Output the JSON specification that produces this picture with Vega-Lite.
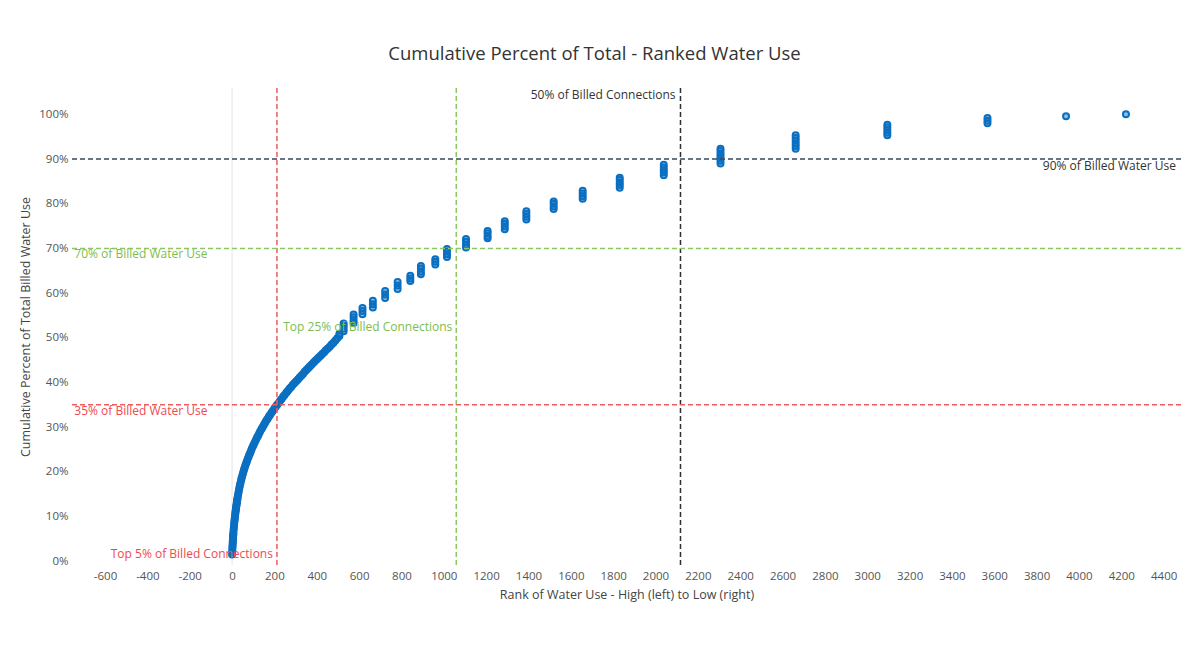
{
  "$schema": "https://vega.github.io/schema/vega-lite/v6.json",
  "width": 1109,
  "height": 477,
  "autosize": "none",
  "padding": {"left": 72, "top": 88, "right": 5, "bottom": 101},
  "background": "white",
  "config": {"view": {"stroke": null}, "font": "Open Sans"},
  "title": {"text": "Cumulative Percent of Total - Ranked Water Use", "fontSize": 18.5, "fontWeight": "normal", "color": "#333333", "offset": 24, "dx": -32},
  "datasets": {
    "pts": [
      {"rank": 0, "p": 1.5}, {"rank": 1, "p": 2.1}, {"rank": 1, "p": 2.6}, {"rank": 2, "p": 3.1}, {"rank": 2, "p": 3.5}, {"rank": 3, "p": 3.9}, {"rank": 3, "p": 4.3}, {"rank": 4, "p": 4.7}, {"rank": 4, "p": 5.0},
      {"rank": 5, "p": 5.4}, {"rank": 5, "p": 5.7}, {"rank": 6, "p": 6.0}, {"rank": 6, "p": 6.3}, {"rank": 7, "p": 6.9}, {"rank": 8, "p": 7.4}, {"rank": 9, "p": 7.9}, {"rank": 10, "p": 8.4}, {"rank": 11, "p": 8.9}, {"rank": 12, "p": 9.3},
      {"rank": 13, "p": 9.7}, {"rank": 14, "p": 10.1}, {"rank": 15, "p": 10.5}, {"rank": 16, "p": 10.9}, {"rank": 17, "p": 11.3}, {"rank": 18, "p": 11.6}, {"rank": 19, "p": 12.0}, {"rank": 20, "p": 12.3}, {"rank": 21, "p": 12.6}, {"rank": 22, "p": 13.0}, {"rank": 23, "p": 13.3},
      {"rank": 24, "p": 13.6}, {"rank": 25, "p": 13.9}, {"rank": 26, "p": 14.2}, {"rank": 28, "p": 14.8}, {"rank": 30, "p": 15.3}, {"rank": 32, "p": 15.8}, {"rank": 34, "p": 16.3}, {"rank": 36, "p": 16.8}, {"rank": 38, "p": 17.2}, {"rank": 40, "p": 17.6}, {"rank": 43, "p": 18.2},
      {"rank": 45, "p": 18.6}, {"rank": 48, "p": 19.1}, {"rank": 51, "p": 19.6}, {"rank": 54, "p": 20.1}, {"rank": 57, "p": 20.6}, {"rank": 60, "p": 21.0}, {"rank": 63, "p": 21.5}, {"rank": 67, "p": 22.0}, {"rank": 70, "p": 22.4}, {"rank": 74, "p": 22.9},
      {"rank": 78, "p": 23.4}, {"rank": 82, "p": 23.9}, {"rank": 86, "p": 24.3}, {"rank": 90, "p": 24.8}, {"rank": 94, "p": 25.3}, {"rank": 99, "p": 25.8}, {"rank": 103, "p": 26.2}, {"rank": 108, "p": 26.7}, {"rank": 113, "p": 27.2}, {"rank": 118, "p": 27.7},
      {"rank": 123, "p": 28.1}, {"rank": 128, "p": 28.6}, {"rank": 133, "p": 29.1}, {"rank": 139, "p": 29.6}, {"rank": 144, "p": 30.0}, {"rank": 150, "p": 30.5}, {"rank": 156, "p": 31.0}, {"rank": 162, "p": 31.5}, {"rank": 168, "p": 31.9}, {"rank": 174, "p": 32.4},
      {"rank": 180, "p": 32.8}, {"rank": 187, "p": 33.3}, {"rank": 193, "p": 33.7}, {"rank": 200, "p": 34.2}, {"rank": 206, "p": 34.6}, {"rank": 213, "p": 35.0}, {"rank": 220, "p": 35.4}, {"rank": 227, "p": 35.9}, {"rank": 234, "p": 36.3}, {"rank": 241, "p": 36.8},
      {"rank": 248, "p": 37.2}, {"rank": 256, "p": 37.7}, {"rank": 263, "p": 38.1}, {"rank": 271, "p": 38.6}, {"rank": 279, "p": 39.0}, {"rank": 287, "p": 39.5}, {"rank": 295, "p": 39.9}, {"rank": 303, "p": 40.3}, {"rank": 311, "p": 40.7}, {"rank": 319, "p": 41.1},
      {"rank": 327, "p": 41.5}, {"rank": 335, "p": 41.9}, {"rank": 343, "p": 42.4}, {"rank": 351, "p": 42.8}, {"rank": 359, "p": 43.2}, {"rank": 367, "p": 43.6}, {"rank": 375, "p": 44.0}, {"rank": 384, "p": 44.4}, {"rank": 392, "p": 44.8}, {"rank": 401, "p": 45.2},
      {"rank": 409, "p": 45.6}, {"rank": 418, "p": 46.0}, {"rank": 426, "p": 46.4}, {"rank": 435, "p": 46.8}, {"rank": 443, "p": 47.2}, {"rank": 452, "p": 47.6}, {"rank": 461, "p": 48.0}, {"rank": 470, "p": 48.5}, {"rank": 479, "p": 48.9}, {"rank": 488, "p": 49.4},
      {"rank": 497, "p": 49.9}, {"rank": 507, "p": 50.4}, {"rank": 507, "p": 50.9},
      {"rank": 527, "p": 51.5}, {"rank": 527, "p": 52.1}, {"rank": 527, "p": 52.7}, {"rank": 527, "p": 53.2},
      {"rank": 574, "p": 53.3}, {"rank": 574, "p": 53.9}, {"rank": 574, "p": 54.6}, {"rank": 574, "p": 55.2},
      {"rank": 616, "p": 55.3}, {"rank": 616, "p": 56.0}, {"rank": 616, "p": 56.7},
      {"rank": 665, "p": 56.8}, {"rank": 665, "p": 57.5}, {"rank": 665, "p": 58.3},
      {"rank": 723, "p": 58.9}, {"rank": 723, "p": 59.7}, {"rank": 723, "p": 60.5},
      {"rank": 782, "p": 60.9}, {"rank": 782, "p": 61.7}, {"rank": 782, "p": 62.5},
      {"rank": 842, "p": 62.7}, {"rank": 842, "p": 63.3}, {"rank": 842, "p": 63.9},
      {"rank": 892, "p": 64.2}, {"rank": 892, "p": 64.8}, {"rank": 892, "p": 65.5}, {"rank": 892, "p": 66.1},
      {"rank": 960, "p": 66.4}, {"rank": 960, "p": 67.0}, {"rank": 960, "p": 67.6},
      {"rank": 1015, "p": 68.1}, {"rank": 1015, "p": 68.7}, {"rank": 1015, "p": 69.3}, {"rank": 1015, "p": 69.9},
      {"rank": 1105, "p": 70.2}, {"rank": 1105, "p": 70.8}, {"rank": 1105, "p": 71.5}, {"rank": 1105, "p": 72.1},
      {"rank": 1207, "p": 72.3}, {"rank": 1207, "p": 72.8}, {"rank": 1207, "p": 73.4}, {"rank": 1207, "p": 73.9},
      {"rank": 1288, "p": 74.3}, {"rank": 1288, "p": 74.9}, {"rank": 1288, "p": 75.5}, {"rank": 1288, "p": 76.1},
      {"rank": 1390, "p": 76.5}, {"rank": 1390, "p": 77.1}, {"rank": 1390, "p": 77.7}, {"rank": 1390, "p": 78.3},
      {"rank": 1519, "p": 78.8}, {"rank": 1519, "p": 79.4}, {"rank": 1519, "p": 80.0}, {"rank": 1519, "p": 80.5},
      {"rank": 1656, "p": 81.1}, {"rank": 1656, "p": 81.7}, {"rank": 1656, "p": 82.3}, {"rank": 1656, "p": 82.9},
      {"rank": 1831, "p": 83.6}, {"rank": 1831, "p": 84.2}, {"rank": 1831, "p": 84.7}, {"rank": 1831, "p": 85.3}, {"rank": 1831, "p": 85.8},
      {"rank": 2039, "p": 86.4}, {"rank": 2039, "p": 87.0}, {"rank": 2039, "p": 87.5}, {"rank": 2039, "p": 88.1}, {"rank": 2039, "p": 88.7},
      {"rank": 2307, "p": 89.0}, {"rank": 2307, "p": 89.6}, {"rank": 2307, "p": 90.1}, {"rank": 2307, "p": 90.7}, {"rank": 2307, "p": 91.2}, {"rank": 2307, "p": 91.8}, {"rank": 2307, "p": 92.3},
      {"rank": 2662, "p": 92.3}, {"rank": 2662, "p": 92.9}, {"rank": 2662, "p": 93.5}, {"rank": 2662, "p": 94.1}, {"rank": 2662, "p": 94.7}, {"rank": 2662, "p": 95.3},
      {"rank": 3095, "p": 95.3}, {"rank": 3095, "p": 95.9}, {"rank": 3095, "p": 96.5}, {"rank": 3095, "p": 97.1}, {"rank": 3095, "p": 97.7},
      {"rank": 3568, "p": 98.0}, {"rank": 3568, "p": 98.6}, {"rank": 3568, "p": 99.2},
      {"rank": 3939, "p": 99.6},
      {"rank": 4222, "p": 100.0}
    ]
  },
  "layer": [
    {
      "data": {"values": [{"rank": 0}]},
      "mark": {"type": "rule", "color": "#e4e4e4", "strokeWidth": 1},
      "encoding": {"x": {"field": "rank", "type": "quantitative", "scale": {"domain": [-756, 4482], "nice": false, "zero": false}}}
    },
    {
      "data": {"name": "pts"},
      "mark": {"type": "point", "shape": "circle", "filled": false, "fill": "#0b6fc1", "fillOpacity": 0.45, "stroke": "#0b6fc1", "strokeWidth": 2, "size": 36, "opacity": 1},
      "encoding": {
        "x": {"field": "rank", "type": "quantitative", "scale": {"domain": [-756, 4482], "nice": false, "zero": false},
          "axis": {"values": [-600, -400, -200, 0, 200, 400, 600, 800, 1000, 1200, 1400, 1600, 1800, 2000, 2200, 2400, 2600, 2800, 3000, 3200, 3400, 3600, 3800, 4000, 4200, 4400],
            "labelExpr": "'' + datum.value",
            "domain": false, "ticks": false, "grid": false, "labelFontSize": 11.5, "labelColor": "#555555", "labelPadding": 5, "labelFlush": false,
            "title": "Rank of Water Use - High (left) to Low (right)", "titleFontSize": 12.5, "titleFontWeight": "normal", "titleColor": "#444444", "titlePadding": 7}},
        "y": {"field": "p", "type": "quantitative", "scale": {"domain": [-0.83, 105.9], "nice": false, "zero": false},
          "axis": {"values": [0, 10, 20, 30, 40, 50, 60, 70, 80, 90, 100], "labelExpr": "datum.value + '%'",
            "domain": false, "ticks": false, "grid": false, "labelFontSize": 11.5, "labelColor": "#555555", "labelPadding": 4,
            "title": "Cumulative Percent of Total Billed Water Use", "titleFontSize": 12.5, "titleFontWeight": "normal", "titleColor": "#444444", "titlePadding": 6}}
      }
    },
    {
      "data": {"values": [{"rank": 212}]},
      "mark": {"type": "rule", "color": "#ef5b5f", "strokeWidth": 1.5, "strokeDash": [5, 3]},
      "encoding": {"x": {"field": "rank", "type": "quantitative", "scale": {"domain": [-756, 4482], "nice": false, "zero": false}}}
    },
    {
      "data": {"values": [{"rank": 1059}]},
      "mark": {"type": "rule", "color": "#8dc663", "strokeWidth": 1.5, "strokeDash": [5, 3]},
      "encoding": {"x": {"field": "rank", "type": "quantitative", "scale": {"domain": [-756, 4482], "nice": false, "zero": false}}}
    },
    {
      "data": {"values": [{"rank": 2118}]},
      "mark": {"type": "rule", "color": "#2f2f2f", "strokeWidth": 1.5, "strokeDash": [5, 3]},
      "encoding": {"x": {"field": "rank", "type": "quantitative", "scale": {"domain": [-756, 4482], "nice": false, "zero": false}}}
    },
    {
      "data": {"values": [{"p": 35}]},
      "mark": {"type": "rule", "color": "#ef5b5f", "strokeWidth": 1.5, "strokeDash": [5, 3]},
      "encoding": {"y": {"field": "p", "type": "quantitative", "scale": {"domain": [-0.83, 105.9], "nice": false, "zero": false}}}
    },
    {
      "data": {"values": [{"p": 70}]},
      "mark": {"type": "rule", "color": "#8dc663", "strokeWidth": 1.5, "strokeDash": [5, 3]},
      "encoding": {"y": {"field": "p", "type": "quantitative", "scale": {"domain": [-0.83, 105.9], "nice": false, "zero": false}}}
    },
    {
      "data": {"values": [{"p": 90}]},
      "mark": {"type": "rule", "color": "#3b4560", "strokeWidth": 1.5, "strokeDash": [5, 3]},
      "encoding": {"y": {"field": "p", "type": "quantitative", "scale": {"domain": [-0.83, 105.9], "nice": false, "zero": false}}}
    },
    {
      "data": {"values": [{"rank": 212, "p": 1.6, "label": "Top 5% of Billed Connections"}]},
      "mark": {"type": "text", "align": "right", "baseline": "middle", "dx": -4, "fontSize": 12, "color": "#ee4a50"},
      "encoding": {
        "x": {"field": "rank", "type": "quantitative", "scale": {"domain": [-756, 4482], "nice": false, "zero": false}},
        "y": {"field": "p", "type": "quantitative", "scale": {"domain": [-0.83, 105.9], "nice": false, "zero": false}},
        "text": {"field": "label"}
      }
    },
    {
      "data": {"values": [{"rank": -745, "p": 35, "label": "35% of Billed Water Use"}]},
      "mark": {"type": "text", "align": "left", "baseline": "top", "dy": 1, "fontSize": 12, "color": "#ee4a50"},
      "encoding": {
        "x": {"field": "rank", "type": "quantitative", "scale": {"domain": [-756, 4482], "nice": false, "zero": false}},
        "y": {"field": "p", "type": "quantitative", "scale": {"domain": [-0.83, 105.9], "nice": false, "zero": false}},
        "text": {"field": "label"}
      }
    },
    {
      "data": {"values": [{"rank": -745, "p": 70, "label": "70% of Billed Water Use"}]},
      "mark": {"type": "text", "align": "left", "baseline": "top", "dy": 1, "fontSize": 12, "color": "#7dbd4c"},
      "encoding": {
        "x": {"field": "rank", "type": "quantitative", "scale": {"domain": [-756, 4482], "nice": false, "zero": false}},
        "y": {"field": "p", "type": "quantitative", "scale": {"domain": [-0.83, 105.9], "nice": false, "zero": false}},
        "text": {"field": "label"}
      }
    },
    {
      "data": {"values": [{"rank": 1059, "p": 52.5, "label": "Top 25% of Billed Connections"}]},
      "mark": {"type": "text", "align": "right", "baseline": "middle", "dx": -4, "fontSize": 12, "color": "#7dbd4c"},
      "encoding": {
        "x": {"field": "rank", "type": "quantitative", "scale": {"domain": [-756, 4482], "nice": false, "zero": false}},
        "y": {"field": "p", "type": "quantitative", "scale": {"domain": [-0.83, 105.9], "nice": false, "zero": false}},
        "text": {"field": "label"}
      }
    },
    {
      "data": {"values": [{"rank": 2118, "p": 105.9, "label": "50% of Billed Connections"}, {"rank": 4482, "p": 90, "label": "90% of Billed Water Use"}]},
      "mark": {"type": "text", "align": "right", "baseline": "top", "dx": -5, "dy": 2, "fontSize": 12, "color": "#333333"},
      "encoding": {
        "x": {"field": "rank", "type": "quantitative", "scale": {"domain": [-756, 4482], "nice": false, "zero": false}},
        "y": {"field": "p", "type": "quantitative", "scale": {"domain": [-0.83, 105.9], "nice": false, "zero": false}},
        "text": {"field": "label"}
      }
    }
  ]
}
